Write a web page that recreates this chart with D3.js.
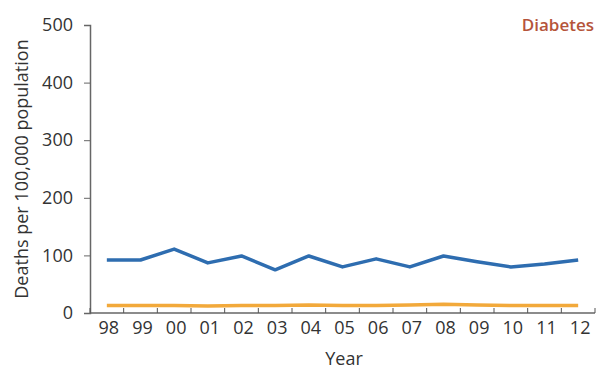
<!DOCTYPE html>
<html><head><meta charset="utf-8">
<script src="https://cdn.jsdelivr.net/npm/d3@7"></script>
<style>body{margin:0;background:#fff;font-family:"Open Sans",sans-serif;}</style>
</head><body><svg id="c" width="598" height="369"></svg>
<script>
const years = ["98","99","00","01","02","03","04","05","06","07","08","09","10","11","12"];
const seriesA = [92,92,111,87,99,75,99,80,94,80,99,89,80,85,92];
const seriesB = [13,13,13,12,13,13,14,13,13,14,15,14,13,13,13];
const yTicks = [0,100,200,300,400,500];

(function(){
const svg = d3.select("#c");
const mLeft = 90, mRight = 595, mTop = 25, mBottom = 313;
const x = d3.scaleBand().domain(years).range([mLeft, mRight]);
const y = d3.scaleLinear().domain([0,500]).range([mBottom, mTop]);

const yAxis = svg.append("g").attr("transform",`translate(${mLeft},0)`)
  .call(d3.axisLeft(y).tickValues(yTicks).tickSize(6).tickPadding(11));
const xAxis = svg.append("g").attr("transform",`translate(0,${mBottom})`)
  .call(d3.axisBottom(x).tickSize(0).tickPadding(8));
const bounds = years.map(d => x(d)).concat([mRight]);
xAxis.selectAll(".bt").data(bounds).enter().append("line")
  .attr("x1",d=>d).attr("x2",d=>d).attr("y1",0).attr("y2",-5).attr("stroke","#555");
[yAxis,xAxis].forEach(g=>{
  g.selectAll("path.domain").attr("stroke","#666").attr("stroke-width",1.5);
  g.selectAll(".tick line").attr("stroke","#666");
  g.selectAll("text").attr("font-size",18).attr("fill","#333").attr("font-family","Open Sans, sans-serif");
});
xAxis.selectAll(".tick text").attr("dx",2);
xAxis.select("path.domain").attr("d",`M${mLeft},0H${mRight}`);

const line = d3.line().x((d,i)=>x(years[i])+x.bandwidth()/2).y(d=>y(d));
svg.append("path").datum(seriesB).attr("d",line).attr("fill","none")
  .attr("stroke","#f2a93b").attr("stroke-width",3.5);
svg.append("path").datum(seriesA).attr("d",line).attr("fill","none")
  .attr("stroke","#2e6db0").attr("stroke-width",3.5).attr("stroke-linejoin","round");

svg.append("text").attr("x",594).attr("y",31).attr("text-anchor","end")
  .attr("font-size",17).attr("font-weight",600).attr("fill","#b5543a").text("Diabetes");
svg.append("text").attr("transform","translate(28,169) rotate(-90)").attr("text-anchor","middle")
  .attr("font-size",18).attr("fill","#333").text("Deaths per 100,000 population");
svg.append("text").attr("x",344).attr("y",365).attr("text-anchor","middle")
  .attr("font-size",18).attr("fill","#333").text("Year");
})();
</script></body></html>
